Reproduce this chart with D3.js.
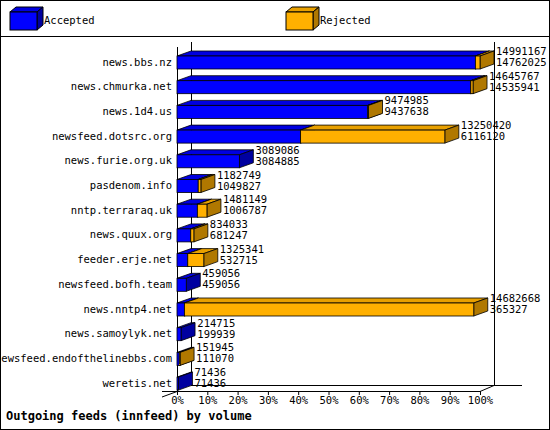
<!DOCTYPE html>
<html><head><meta charset="utf-8">
<script src="https://cdn.jsdelivr.net/npm/d3@7"></script>
<style>body{margin:0;background:#fff}text{font-family:"DejaVu Sans Mono",monospace;font-size:10.5px}</style>
</head><body><svg id="c" width="550" height="430"></svg>
<script>
// feed names, offered totals and accepted counts
var hosts = ["news.bbs.nz","news.chmurka.net","news.1d4.us","newsfeed.dotsrc.org","news.furie.org.uk",
  "pasdenom.info","nntp.terraraq.uk","news.quux.org","feeder.erje.net","newsfeed.bofh.team",
  "news.nntp4.net","news.samoylyk.net","newsfeed.endofthelinebbs.com","weretis.net"];
var offered = [14991167,14645767,9474985,13250420,3089086,1182749,1481149,834033,1325341,459056,14682668,214715,151945,71436];
var accepted = [14762025,14535941,9437638,6116120,3084885,1049827,1006787,681247,532715,459056,365327,199939,111070,71436];
var ticks = [0,10,20,30,40,50,60,70,80,90,100];

var svg = d3.select("#c");
var dx = 14, dy = 5, bh = 13;
var colA = {front:"#0000ff", top:"#0000e0", side:"#0000a0"};
var colR = {front:"#ffb000", top:"#e8a000", side:"#b07800"};

svg.append("rect").attr("x",0.5).attr("y",0.5).attr("width",549).attr("height",429).attr("fill","#fff").attr("stroke","#000");
svg.append("line").attr("x1",0).attr("x2",550).attr("y1",36.5).attr("y2",36.5).attr("stroke","#000");

function box(g, x0, x1, y, c){
  if (x1 - x0 < 0.5) return;
  g.append("path").attr("d",`M${x0},${y}L${x0+dx},${y-dy}L${x1+dx},${y-dy}L${x1},${y}Z`).attr("fill",c.top).attr("stroke","#000").attr("stroke-width",0.8);
  g.append("path").attr("d",`M${x1},${y}L${x1+dx},${y-dy}L${x1+dx},${y-dy+bh}L${x1},${y+bh}Z`).attr("fill",c.side).attr("stroke","#000").attr("stroke-width",0.8);
  g.append("rect").attr("x",x0).attr("y",y).attr("width",x1-x0).attr("height",bh).attr("fill",c.front).attr("stroke","#000").attr("stroke-width",0.8);
}

// legend
var lg = svg.append("g");
[["Accepted",colA,10],["Rejected",colR,286]].forEach(function(d){
  var s = d[1];
  lg.append("path").attr("d",`M${d[2]},${12}L${d[2]+6},${7}L${d[2]+33},${7}L${d[2]+27},${12}Z`).attr("fill",s.top).attr("stroke","#000");
  lg.append("path").attr("d",`M${d[2]+27},${12}L${d[2]+33},${7}L${d[2]+33},${25}L${d[2]+27},${30}Z`).attr("fill",s.side).attr("stroke","#000");
  lg.append("rect").attr("x",d[2]).attr("y",12).attr("width",27).attr("height",18).attr("fill",s.front).attr("stroke","#000");
  lg.append("text").attr("x",d[2]+34).attr("y",24).text(d[0]);
});

var max = d3.max(offered);
var x = d3.scaleLinear().domain([0,100]).range([177,480]);
var y = d3.scaleBand().domain(hosts).range([56,56+14*24.7]);

// walls
var g = svg.append("g").attr("fill","none").attr("stroke","#000");
g.append("line").attr("x1",177.5).attr("x2",177.5).attr("y1",47).attr("y2",391);
g.append("line").attr("x1",191.5).attr("x2",191.5).attr("y1",42).attr("y2",386);
g.append("line").attr("x1",494.5).attr("x2",494.5).attr("y1",42).attr("y2",386);
g.append("line").attr("x1",162).attr("x2",480).attr("y1",391.5).attr("y2",391.5);
g.append("line").attr("x1",480).attr("x2",494).attr("y1",391.5).attr("y2",385.5);
g.append("line").attr("x1",191).attr("x2",522).attr("y1",385.5).attr("y2",385.5);
g.append("line").attr("x1",162).attr("x2",177).attr("y1",397).attr("y2",391.5);

var bars = svg.append("g");
hosts.forEach(function(h,i){
  var yy = y(h);
  var xa = x(accepted[i]/max*100), xo = x(offered[i]/max*100);
  box(bars, x(0), xa, yy, colA);
  if (xo - xa >= 0.5) box(bars, xa, xo, yy, colR);
  svg.append("text").attr("x",172).attr("y",yy+bh/2+3).attr("text-anchor","end").text(h);
  svg.append("text").attr("x",xo+dx+2).attr("y",yy-1).text(offered[i]);
  svg.append("text").attr("x",xo+dx+2).attr("y",yy+10).text(accepted[i]);
});

var ax = svg.append("g").attr("transform","translate(0,391)")
  .call(d3.axisBottom(x).tickValues(ticks).tickFormat(function(d){return d+"%";}).tickSize(4).tickSizeOuter(0));
ax.select(".domain").remove();
ax.selectAll("text").attr("font-family","DejaVu Sans Mono").attr("font-size",10.5).attr("dy","0.6em");

svg.append("text").attr("x",6).attr("y",420).attr("font-weight","bold").style("font-size","12px").text("Outgoing feeds (innfeed) by volume");
</script></body></html>
